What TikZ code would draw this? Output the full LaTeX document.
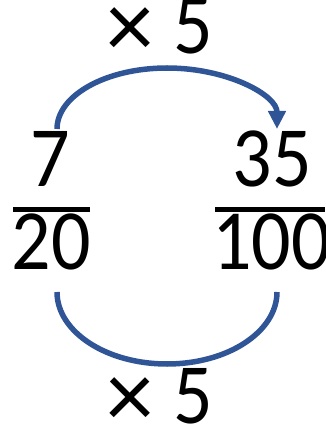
\documentclass[tikz,border=0pt]{standalone}
\usepackage{graphicx}
\usepackage{fontspec}
\setmainfont{Carlito}
\usetikzlibrary{arrows.meta}
\definecolor{arcblue}{HTML}{2F5597}
\newcommand{\dg}[1]{\scalebox{1}[1.1]{#1}}
\newcommand{\bigtimes}{\raisebox{-4pt}{\scalebox{1.22}{×}}}
\tikzset{
  num/.style={inner sep=0pt, anchor=base, font=\fontsize{78}{90}\selectfont},
  lbl/.style={inner sep=0pt, anchor=base, font=\fontsize{78}{90}\selectfont},
  bar/.style={line width=4.5pt},
  arcline/.style={draw=arcblue, line width=5.5pt},
}
\begin{document}
\begin{tikzpicture}[x=1pt,y=-1pt]
\useasboundingbox (0,0) rectangle (325,427);
% labels
\node[lbl] (top) at (160,54) {\bigtimes\hspace{20pt}\dg{5}};
\node[lbl] (bot) at (160,423) {\bigtimes\hspace{20pt}\dg{5}};
% left fraction
\node[num] (n1) at (50,187) {\dg{7}};
\node[num] (d1) at (51.5,269) {\dg{20}};
\coordinate (b1l) at (13,209.5);
\coordinate (b1r) at (90,209.5);
\draw[bar] (b1l) -- (b1r);
% right fraction
\node[num] (n2) at (272,187) {\dg{35}};
\node[num] (d2) at (271.5,269) {\dg{100}};
\coordinate (b2l) at (215,209.5);
\coordinate (b2r) at (325,209.5);
\draw[bar] (b2l) -- (b2r);
% arcs
\coordinate (ts) at (57,129);
\coordinate (bs) at (57,292);
\draw[arcline, -{Triangle[length=18pt,width=17pt]}] (ts) arc[start angle=180, end angle=360, x radius=110, y radius=61];
\draw[arcline] (bs) arc[start angle=180, end angle=0, x radius=110, y radius=72];
\end{tikzpicture}
\end{document}
